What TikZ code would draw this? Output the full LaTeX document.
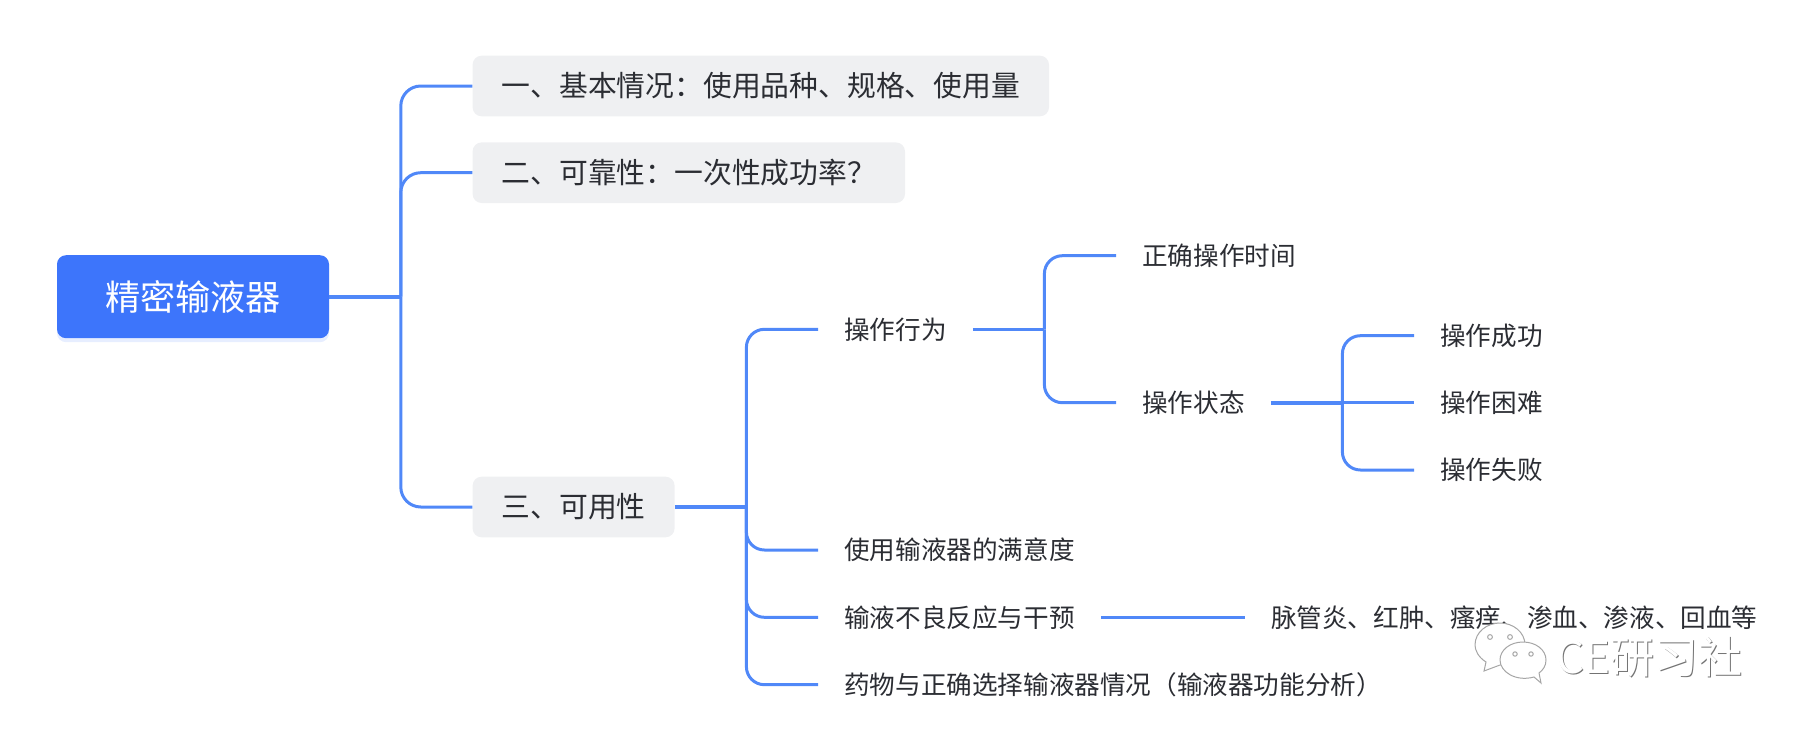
\documentclass[tikz,border=0pt]{standalone}
\usepackage{fontspec}
\setmainfont{Noto Sans CJK SC}
\usetikzlibrary{positioning}
\usetikzlibrary{shadows}
\definecolor{linkblue}{HTML}{5088F8}
\definecolor{rootblue}{HTML}{3D75FB}
\definecolor{topicgrey}{HTML}{EFF0F2}
\definecolor{inkgrey}{HTML}{2B2D33}
\tikzset{
rootnode/.style = {fill=rootblue, text=white, rounded corners=9pt, inner xsep=48pt, inner ysep=0pt,
                   minimum height=83pt, font=\fontsize{35.2}{40}\selectfont,
                   drop shadow={opacity=0.12, fill=rootblue, shadow xshift=0pt, shadow yshift=-4pt}},
topic/.style = {fill=topicgrey, text=inkgrey, rounded corners=9pt, inner xsep=29pt, inner ysep=0pt,
                minimum height=60.6pt, font=\fontsize{28.8}{34}\selectfont},
leaf/.style = {text=inkgrey, inner xsep=26pt, inner ysep=0pt, minimum height=36pt,
               font=\fontsize{25.6}{30}\selectfont},
branch/.style = {draw=linkblue, line width=3pt, rounded corners=18pt},
stem/.style = {draw=linkblue, line width=3.6pt},
mark text/.style = {inner sep=0pt, font=\fontsize{44}{48}\selectfont},
bubble/.style = {draw=black!35, fill=white, line width=1pt},
}
\begin{document}
\begin{tikzpicture}[x=1pt, y=-1pt, node distance=71.6pt]
		\useasboundingbox (0,0) rectangle (1802,736);
		
		\node[rootnode, anchor=west] (root) at (56.8,296.7) {精密输液器};
		\coordinate[right=of root] (hub1);
		
		\node[topic, right=of hub1, yshift=210.7pt] (basic) {一、基本情况\char"FF1A 使用品种、规格、使用量};
		\node[topic, right=of hub1, yshift=124pt] (reliable) {二、可靠性\char"FF1A 一次性成功率\char"FF1F};
		\node[topic, right=of hub1, yshift=-210.3pt] (usable) {三、可用性};
		\coordinate[right=of usable] (hub2);
		
		\node[leaf, right=of hub2, yshift=177.7pt] (behave) {操作行为};
		\node[leaf, right=of hub2, yshift=-43pt] (satisfied) {使用输液器的满意度};
		\node[leaf, right=of hub2, yshift=-110.3pt] (adverse) {输液不良反应与干预};
		\node[leaf, right=of hub2, yshift=-177.7pt] (drug) {药物与正确选择输液器情况\char"FF08 输液器功能分析\char"FF09};
		\coordinate[right=of behave] (hub3);
		
		\node[leaf, right=of hub3, yshift=73.6pt] (timing) {正确操作时间};
		\node[leaf, right=of hub3, yshift=-73.4pt] (status) {操作状态};
		\coordinate[right=of status] (hub4);
		
		\node[leaf, right=of hub4, yshift=67pt] (success) {操作成功};
		\node[leaf, right=of hub4] (hard) {操作困难};
		\node[leaf, right=of hub4, yshift=-67.3pt] (failure) {操作失败};
		\node[leaf, right=144pt of adverse] (detail) {脉管炎、红肿、瘙痒、渗血、渗液、回血等};
		
		\draw[stem] (root) -- (hub1);
		\draw[stem] (usable) -- (hub2);
		\draw[stem] (behave) -- (hub3);
		\draw[stem] (status) -- (hub4);
		\draw[stem] (adverse) -- (detail);
		
		\draw[branch, rounded corners=20pt] (hub1) |- (basic);
		\draw[branch, rounded corners=20pt] (hub1) |- (reliable);
		\draw[branch, rounded corners=20pt] (hub1) |- (usable);
		\draw[branch] (hub2) |- (behave);
		\draw[branch] (hub2) |- (satisfied);
		\draw[branch] (hub2) |- (adverse);
		\draw[branch] (hub2) |- (drug);
		\draw[branch] (hub3) |- (timing);
		\draw[branch] (hub3) |- (status);
		\draw[branch] (hub4) |- (success);
		\draw[branch] (hub4) -- (hard);
		\draw[branch] (hub4) |- (failure);
		
		% watermark
		\filldraw[bubble] (1484,671) -- (1486,662) .. controls (1478,657) and (1475,650) .. (1475,645) .. controls (1475,632) and (1487,623) .. (1500,623) .. controls (1513,623) and (1525,632) .. (1525,645) .. controls (1525,657) and (1513,665) .. (1500,665) -- cycle;
		\filldraw[bubble] (1541,683) -- (1534,677) .. controls (1516,682) and (1500,672) .. (1500,660) .. controls (1500,650) and (1510,642) .. (1523,642) .. controls (1536,642) and (1546,650) .. (1546,660) .. controls (1546,666) and (1543,670) .. (1539,673) -- cycle;
		\filldraw[bubble] (1490,637) circle (2.4);
		\filldraw[bubble] (1510,637) circle (2.4);
		\filldraw[bubble] (1515,654) circle (2.2);
		\filldraw[bubble] (1531,654) circle (2.2);
		\node[mark text, text=black!55, anchor=west] (markshade) at (1556.8,657.8) {CE研习社};
		\node[mark text, text=white, anchor=west] (mark) at (1556,657) {CE研习社};
\end{tikzpicture}
\end{document}
